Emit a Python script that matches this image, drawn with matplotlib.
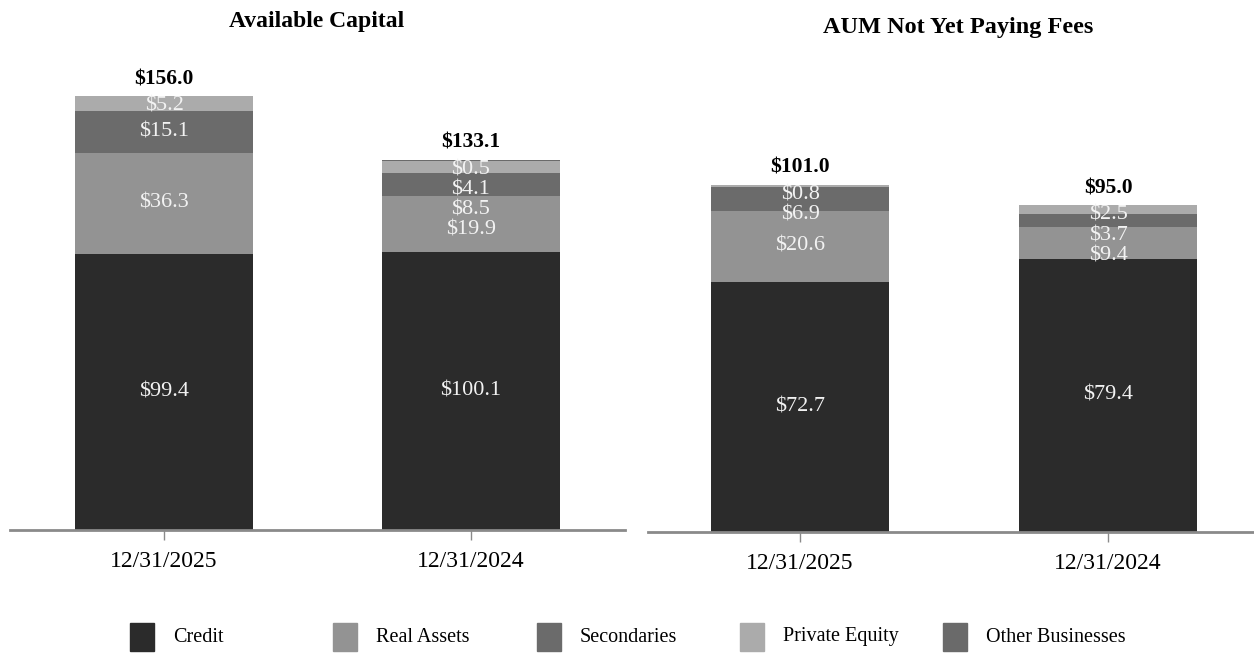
import matplotlib.pyplot as plt
from matplotlib.patches import Rectangle

plt.rcParams['font.family'] = ['Liberation Serif', 'DejaVu Serif']

# data (in $ billions)
dates = ['12/31/2025', '12/31/2024']
segments = ['Credit', 'Real Assets', 'Secondaries', 'Private Equity', 'Other Businesses']
colors = ['#2b2b2b', '#939393', '#6b6b6b', '#ababab', '#6a6a6a']

avail_credit = [99.4, 100.1]
avail_real = [36.3, 19.9]
avail_sec = [15.1, 8.5]
avail_pe = [5.2, 4.1]
avail_other = [0.0, 0.5]
avail_total = [156.0, 133.1]

aum_credit = [72.7, 79.4]
aum_real = [20.6, 9.4]
aum_sec = [6.9, 3.7]
aum_pe = [0.8, 2.5]
aum_other = [0.0, 0.0]
aum_total = [101.0, 95.0]

fig = plt.figure(figsize=(12.54, 6.53), dpi=100)


def draw_panel(ax, series, totals, ymax, gap, half):
    x = list(range(len(dates)))
    bottoms = [0.0] * len(x)
    segs = []  # per bar: list of (center, value)
    for vals, col in zip(series, colors):
        ax.bar(x, vals, width=0.58, bottom=bottoms, color=col, edgecolor='none')
        segs.append([(b + v / 2, v) for b, v in zip(bottoms, vals)])
        bottoms = [b + v for b, v in zip(bottoms, vals)]

    # value labels, top-down so small segments do not collide
    for i in x:
        top = bottoms[i]
        prev = top - half + gap
        for s in reversed(range(len(series))):
            c, v = segs[s][i]
            if v <= 0:
                continue
            y = min(c, prev - gap)
            ax.text(i, y, f'${v:.1f}', ha='center', va='center',
                    color='#f2f2f2', fontsize=16)
            prev = y
        ax.annotate(f'${totals[i]:.1f}', (i, top), xytext=(0, 5),
                    textcoords='offset points', ha='center', va='bottom',
                    fontsize=15.5, fontweight='bold')

    ax.set_ylim(0, ymax)
    ax.set_xticks(x)
    ax.set_xticklabels(dates, fontsize=17)
    ax.set_yticks([])
    for sp in ['top', 'left', 'right']:
        ax.spines[sp].set_visible(False)
    ax.spines['bottom'].set_color('#8a8a8a')
    ax.spines['bottom'].set_linewidth(2)
    ax.tick_params(axis='x', direction='out', length=7, width=1,
                   color='#8a8a8a', pad=8)


ax1 = fig.add_axes([0.008, 0.1884, 0.4904, 0.7198])
ax1.set_xlim(-0.502, 1.502)
draw_panel(ax1, [avail_credit, avail_real, avail_sec, avail_pe, avail_other],
           avail_total, 169, 7.2, 3.5)

ax2 = fig.add_axes([0.5167, 0.1853, 0.4833, 0.7228])
ax2.set_xlim(-0.494, 1.474)
draw_panel(ax2, [aum_credit, aum_real, aum_sec, aum_pe, aum_other],
           aum_total, 137.2, 6.0, 2.9)

fig.text(317 / 1254, 1 - 22 / 653, 'Available Capital', ha='center', va='center',
         fontsize=17, fontweight='bold')
fig.text(958 / 1254, 1 - 28 / 653, 'AUM Not Yet Paying Fees', ha='center', va='center',
         fontsize=17.5, fontweight='bold')

# legend
for k, (name, col) in enumerate(zip(segments, colors)):
    x0 = (130 + k * 203.3) / 1254
    fig.add_artist(Rectangle((x0, 2 / 653), 24 / 1254, 28 / 653,
                             transform=fig.transFigure, color=col))
    fig.text(x0 + 43 / 1254, 16 / 653, name, ha='left', va='center', fontsize=14.5)

fig.savefig('out.png', dpi=100)
